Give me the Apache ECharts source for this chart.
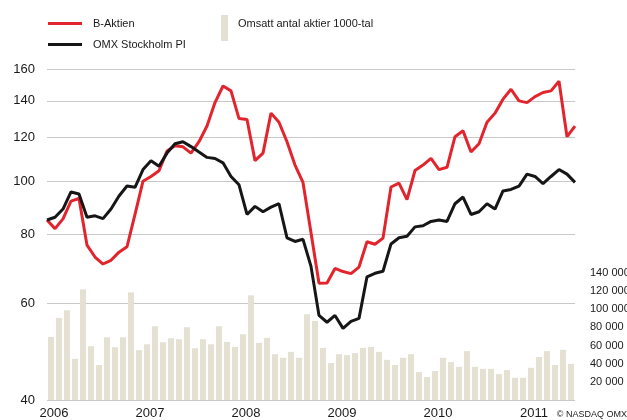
<!DOCTYPE html>
<html>
<head>
<meta charset="utf-8">
<script src="https://cdn.jsdelivr.net/npm/echarts@6/dist/echarts.min.js"></script>
<style>html,body{margin:0;padding:0;background:#fff}#c{width:627px;height:420px}</style>
</head>
<body>
<div id="c"></div>
<script>
// Monthly volume bars (Jan 2006 – Jun 2011), thousands of shares
var volume = [69600, 90500, 98900, 45400, 122000, 59300, 38500, 69200, 58200, 69200,
  118700, 55000, 61500, 81300, 63700, 68100, 67000, 80200, 57100, 67000,
  61500, 81300, 64100, 58600, 72500, 115400, 63000, 68500, 50600, 46500,
  53100, 46500, 94500, 87200, 57500, 40700, 50600, 49500, 51700, 57500,
  58600, 53100, 44300, 38500, 46500, 50600, 30800, 25300, 31900, 46500,
  41800, 36600, 53900, 36600, 34400, 34400, 28600, 33000, 24500, 24500,
  35500, 47300, 53900, 38500, 55300, 39900];
// Indexed prices (month boundaries)
var bAktien = [85, 82, 85.4, 92, 93, 76.5, 72.8, 70.7, 71.8, 74.3,
  76, 87, 100, 102, 104.5, 113.5, 116, 115.5, 112.5, 118,
  126, 139, 149, 146, 130, 129.5, 109, 112.5, 133, 128,
  118, 107, 99.5, 80.6, 65.2, 65.3, 69.4, 68.5, 67.9, 69.8,
  77.6, 76.8, 78.8, 97.6, 99.2, 92.6, 104.6, 107, 110, 105,
  106, 120.5, 123.5, 113, 117, 128, 133, 141, 147, 140,
  139, 142.5, 145, 146, 152, 120.5, 126];
var omx = [85, 86, 89, 95.6, 94.8, 86, 86.5, 85.5, 89, 94,
  98, 97.5, 105, 109, 106.5, 112.5, 117, 118, 115.6, 113,
  110.5, 110, 108, 102, 98.5, 87, 90, 88, 89.7, 91,
  78.9, 77.7, 78.4, 70, 57, 55.4, 57, 54, 55.6, 56.3,
  67, 68, 68.6, 76.9, 78.9, 79.4, 82.6, 83, 84.5, 85,
  84.5, 91, 93.6, 87, 88, 91, 89, 96, 96.6, 98,
  103, 102, 99, 102, 105, 103, 99.5];
var years = [2006, 2007, 2008, 2009, 2010, 2011];
var leftTicks = [40, 60, 80, 100, 120, 140, 160];
var rightTicks = [20000, 40000, 60000, 80000, 100000, 120000, 140000];

var months = [];
years.forEach(function (y) { for (var m = 1; m <= 12; m++) months.push(y + '-' + (m < 10 ? '0' + m : m)); });
var barCats = months.slice(0, volume.length);
var lineCats = months.slice(0, bAktien.length);

var FONT = 'Liberation Sans';
var TXT = '#1a1a1a';
var RED = '#e2252d', BLACK = '#161616', BAR = '#e4e1d3';

var chart = echarts.init(document.getElementById('c'));
chart.setOption({
  animation: false,
  textStyle: { fontFamily: FONT },
  grid: { left: 47, right: 52, top: 69, bottom: 20, outerBoundsMode: 'none', containLabel: false },
  title: {
    text: '© NASDAQ OMX', right: 0, bottom: 1, padding: 0,
    textStyle: { fontSize: 9, fontWeight: 'normal', color: TXT, fontFamily: FONT }
  },
  legend: [
    { data: ['B-Aktien'], left: 48, top: 18, padding: 0, orient: 'vertical', icon: 'rect', itemWidth: 34, itemHeight: 3,
      textStyle: { fontSize: 11, color: TXT, fontFamily: FONT, padding: [0, 0, 0, 6] } },
    { data: ['OMX Stockholm PI'], left: 48, top: 39, padding: 0, orient: 'vertical', icon: 'rect', itemWidth: 34, itemHeight: 3,
      textStyle: { fontSize: 11, color: TXT, fontFamily: FONT, padding: [0, 0, 0, 6] } },
    { data: ['Omsatt antal aktier 1000-tal'], left: 221, top: 15, padding: 0, icon: 'rect', itemWidth: 7, itemHeight: 26,
      formatter: function (n) { return '{t|' + n + '}\n{s|}'; },
      textStyle: { fontSize: 11, color: TXT, fontFamily: FONT, padding: [0, 0, 0, 5],
        rich: { t: { fontSize: 11, lineHeight: 14, color: TXT, fontFamily: FONT }, s: { lineHeight: 8, height: 8 } } } }
  ],
  xAxis: [
    { type: 'category', data: barCats, boundaryGap: true,
      axisLine: { show: false }, axisTick: { show: false },
      axisLabel: { interval: function (i) { return i % 12 === 0; },
        formatter: function (v) { return v.slice(0, 4); },
        fontSize: 13, color: TXT, margin: 7, fontFamily: FONT, padding: [0, 0, 0, 6] } },
    { type: 'category', data: lineCats, boundaryGap: false, show: false }
  ],
  yAxis: [
    { type: 'log', logBase: 10, min: 40, max: 160, position: 'left',
      axisLine: { show: false },
      axisTick: { show: false, customValues: leftTicks },
      axisLabel: { customValues: leftTicks, fontSize: 13, color: TXT, margin: 12, fontFamily: FONT },
      splitLine: { show: true, lineStyle: { color: '#c8c8c8', width: 1 } } },
    { type: 'value', min: 0, max: 365000, position: 'right',
      axisLine: { show: false }, axisTick: { show: false },
      splitLine: { show: false },
      axisLabel: { customValues: rightTicks, fontSize: 11, color: TXT, margin: 15, align: 'left', fontFamily: FONT,
        formatter: function (v) { return String(v).replace(/\B(?=(\d{3})+(?!\d))/g, ' '); } } }
  ],
  series: [
    { name: 'Omsatt antal aktier 1000-tal', type: 'bar', data: volume, xAxisIndex: 0, yAxisIndex: 1,
      barWidth: 6, itemStyle: { color: BAR }, z: 1 },
    { name: 'B-Aktien', type: 'line', data: bAktien, xAxisIndex: 1, yAxisIndex: 0,
      showSymbol: false, symbol: 'none', lineStyle: { color: RED, width: 3 }, itemStyle: { color: RED }, z: 3 },
    { name: 'OMX Stockholm PI', type: 'line', data: omx, xAxisIndex: 1, yAxisIndex: 0,
      showSymbol: false, symbol: 'none', lineStyle: { color: BLACK, width: 3 }, itemStyle: { color: BLACK }, z: 4 }
  ]
});
</script>
</body>
</html>
